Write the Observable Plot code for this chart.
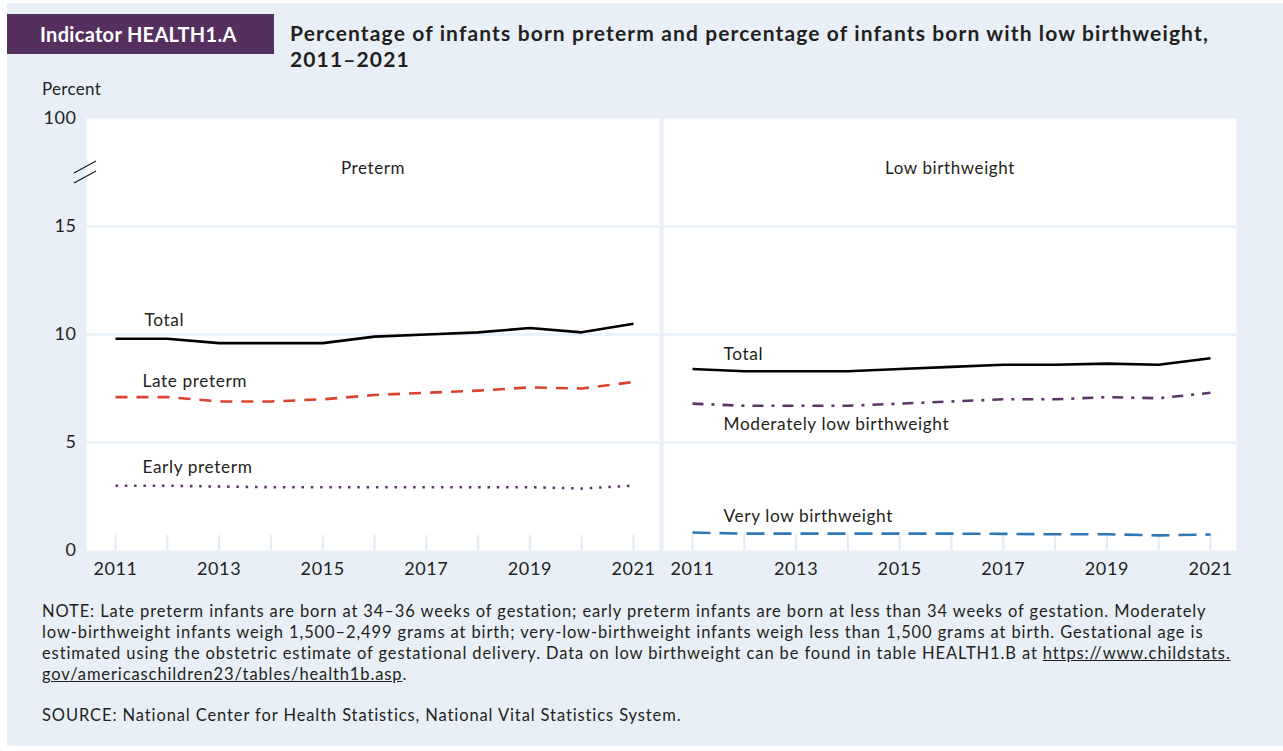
<!DOCTYPE html>
<html>
<head>
<meta charset="utf-8">
<script src="https://cdn.jsdelivr.net/npm/d3@7"></script>
<script src="https://cdn.jsdelivr.net/npm/@observablehq/plot@0.6"></script>
<style>
  body { margin: 0; background: #ffffff; }
  #root { position: relative; width: 1283px; height: 751px; background: #ffffff; font-family: Lato, "Noto Sans", sans-serif; color: #231f20; overflow: hidden; }
  #bg { position: absolute; left: 7px; top: 3px; right: 0; bottom: 5px; background: #e8eff7; }
  #badge { position: absolute; left: 7px; top: 14px; width: 267px; height: 40px; background: #55305f; color: #fff; font-weight: 700; font-size: 20px; letter-spacing: 0.3px; line-height: 40px; padding-left: 33px; box-sizing: border-box; white-space: nowrap; }
  #title { position: absolute; left: 290px; top: 20px; width: 980px; font-weight: 700; font-size: 21px; letter-spacing: 1.13px; line-height: 26px; white-space: nowrap; }
  #ylab { position: absolute; left: 42px; top: 78px; font-size: 17px; letter-spacing: 0.3px; }
  #chart { position: absolute; left: 0; top: 100px; }
  #brk { position: absolute; left: 0; top: 0; pointer-events: none; }
  #notes { position: absolute; left: 42px; top: 601px; width: 1240px; font-size: 16.5px; letter-spacing: 0.89px; line-height: 21px; white-space: nowrap; }
  #notes p { margin: 0; }
  #notes span.u { text-decoration: underline; }
</style>
</head>
<body>
<div id="root">
  <div id="bg"></div>
  <div id="badge">Indicator HEALTH1.A</div>
  <div id="title">Percentage of infants born preterm and percentage of infants born with low birthweight,<br>2011–2021</div>
  <div id="ylab">Percent</div>
  <div id="chart"></div>
  <svg id="brk" width="1283" height="751">
    <line x1="74" y1="173" x2="96" y2="161" stroke="#231f20" stroke-width="1.3"/>
    <line x1="74" y1="183" x2="96" y2="171" stroke="#231f20" stroke-width="1.3"/>
  </svg>
  <div id="notes">
    <p>NOTE: Late preterm infants are born at 34–36 weeks of gestation; early preterm infants are born at less than 34 weeks of gestation. Moderately<br>low-birthweight infants weigh 1,500–2,499 grams at birth; very-low-birthweight infants weigh less than 1,500 grams at birth. Gestational age is<br>estimated using the obstetric estimate of gestational delivery. Data on low birthweight can be found in table HEALTH1.B at <span class="u">https://www.childstats.</span><br><span class="u">gov/americaschildren23/tables/health1b.asp</span>.</p>
    <p style="margin-top:20px">SOURCE: National Center for Health Statistics, National Vital Statistics System.</p>
  </div>
</div>
<script>
// ---- data ----
const years = [2011, 2012, 2013, 2014, 2015, 2016, 2017, 2018, 2019, 2020, 2021];
const panels = ["Preterm", "Low birthweight"];
const pretermTotal   = [9.8, 9.8, 9.6, 9.6, 9.6, 9.9, 10.0, 10.1, 10.3, 10.1, 10.5];
const latePreterm    = [7.1, 7.1, 6.9, 6.9, 7.0, 7.2, 7.3, 7.4, 7.55, 7.5, 7.8];
const earlyPreterm   = [3.0, 3.0, 2.96, 2.93, 2.93, 2.93, 2.93, 2.93, 2.93, 2.87, 3.0];
const lbwTotal       = [8.4, 8.3, 8.3, 8.3, 8.4, 8.5, 8.6, 8.6, 8.65, 8.6, 8.9];
const moderatelyLbw  = [6.8, 6.7, 6.7, 6.7, 6.8, 6.9, 7.0, 7.0, 7.1, 7.05, 7.3];
const veryLbw        = [0.83, 0.78, 0.78, 0.78, 0.78, 0.78, 0.77, 0.75, 0.75, 0.70, 0.74];
const yTicks = [0, 5, 10, 15, 20];
const yTickLabels = ["0", "5", "10", "15", "100"];
const xTicks = [2011, 2013, 2015, 2017, 2019, 2021];
const seriesNames = ["Total", "Late preterm", "Early preterm", "Total", "Moderately low birthweight", "Very low birthweight"];
// label anchors (data units): panel, year, value
const labelPanel = ["Preterm", "Preterm", "Preterm", "Low birthweight", "Low birthweight", "Low birthweight"];
const labelYear  = [2011.56, 2011.52, 2011.52, 2011.6, 2011.6, 2011.6];
const labelValue = [10.65, 7.82, 3.84, 9.07, 5.83, 1.57];

// ---- build ----
const seriesValues = [pretermTotal, latePreterm, earlyPreterm, lbwTotal, moderatelyLbw, veryLbw];
const seriesPanel = ["Preterm", "Preterm", "Preterm", "Low birthweight", "Low birthweight", "Low birthweight"];
const seriesStyle = [
  {stroke: "#000000", strokeDasharray: null},
  {stroke: "#d9432f", strokeDasharray: "12 9"},
  {stroke: "#5b3566", strokeDasharray: "2.5 6.8"},
  {stroke: "#000000", strokeDasharray: null},
  {stroke: "#5b3566", strokeDasharray: "11 8 3 8"},
  {stroke: "#2f78b4", strokeDasharray: "18 9"}
];
const labels = seriesNames.map((t, i) => ({text: t, panel: labelPanel[i], year: labelYear[i], value: labelValue[i]}));

const lineMarks = seriesValues.map((vals, i) => {
  const rows = years.map((yr, j) => ({year: yr, value: vals[j], panel: seriesPanel[i]}));
  const st = seriesStyle[i];
  const opts = {x: "year", y: "value", fx: "panel", stroke: st.stroke, strokeWidth: 2.6, strokeLinecap: "butt"};
  if (st.strokeDasharray) opts.strokeDasharray = st.strokeDasharray;
  return Plot.line(rows, opts);
});

const chart = Plot.plot({
  width: 1283,
  height: 490,
  marginLeft: 86,
  marginRight: 47,
  marginTop: 18,
  marginBottom: 40,
  style: {background: "transparent", fontFamily: "Lato, 'Noto Sans', sans-serif", fontSize: "18px", letterSpacing: "0.6px", color: "#231f20", overflow: "visible"},
  fx: {domain: panels, paddingInner: 0.007, paddingOuter: 0, axis: null, label: null},
  x: {domain: [2011, 2021], insetLeft: 29, insetRight: 26, ticks: xTicks, tickFormat: d => String(d), tickSize: 0, tickPadding: 12, label: null},
  y: {domain: [0, 20], ticks: yTicks, tickFormat: d => yTickLabels[yTicks.indexOf(d)], tickSize: 0, tickPadding: 10, label: null},
  marks: [
    Plot.frame({fill: "#ffffff"}),
    Plot.ruleY([5, 10, 15], {stroke: "#e8eff7", strokeWidth: 2.5}),
    Plot.ruleX(years, {y1: 0, y2: 0.7, stroke: "#e3ebf4", strokeWidth: 2}),
    ...lineMarks,
    Plot.text(labels, {x: "year", y: "value", fx: "panel", text: "text", textAnchor: "start", fontSize: 17.3, fill: "#231f20"}),
    Plot.text(panels, {fx: d => d, text: d => d, frameAnchor: "top", dy: 43, fontSize: 17, fill: "#231f20"})
  ]
});
document.getElementById("chart").appendChild(chart);
</script>
</body>
</html>
